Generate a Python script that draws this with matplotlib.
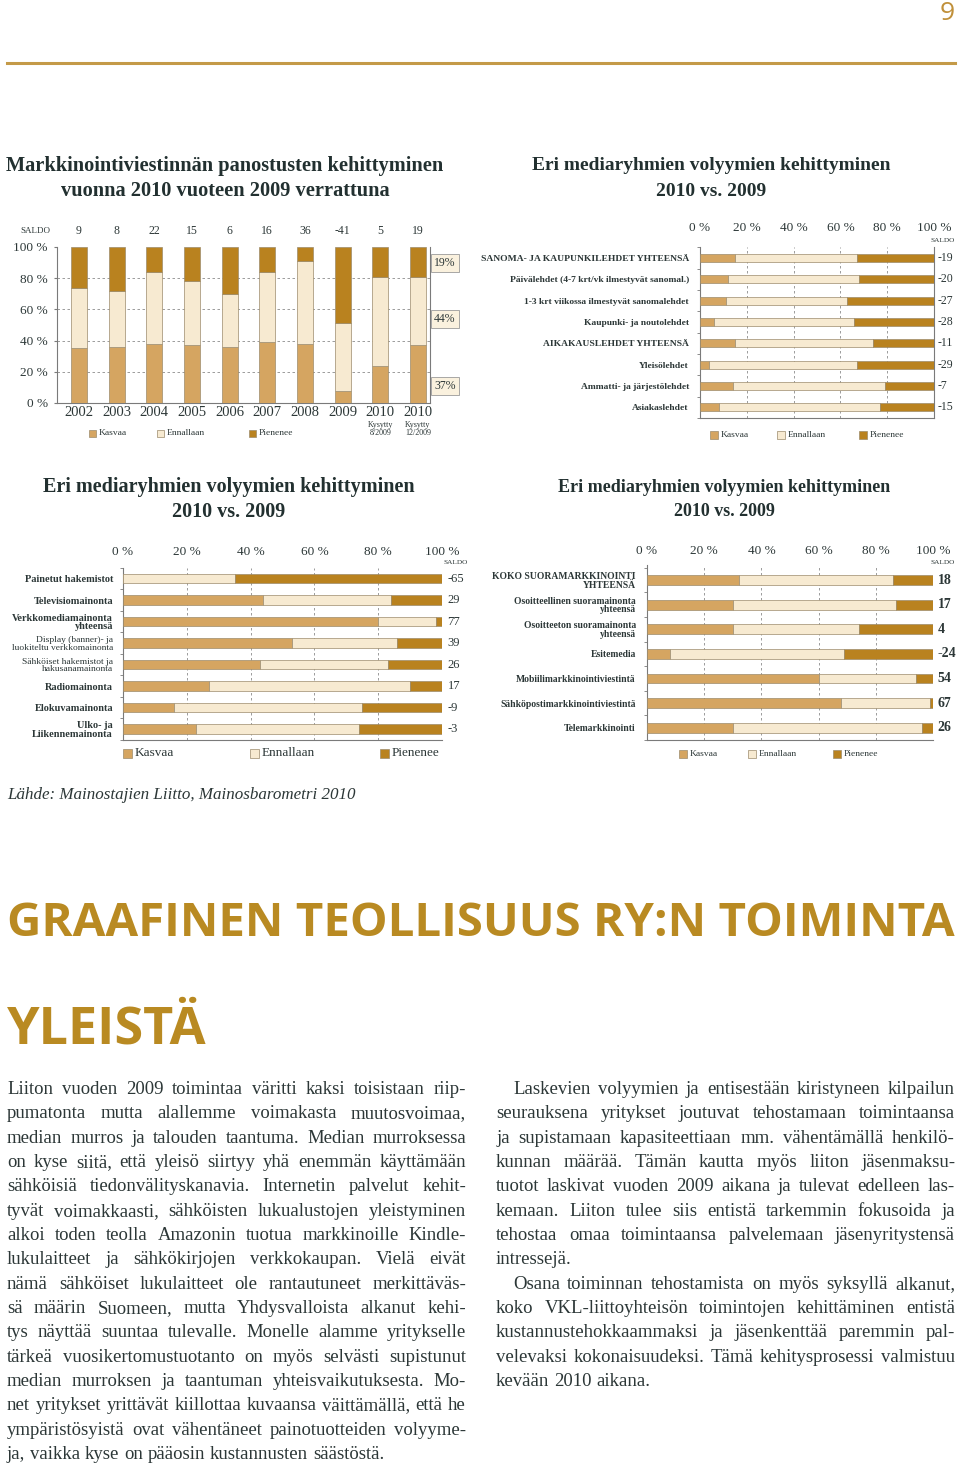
import numpy as np
import matplotlib
matplotlib.use('Agg')
from matplotlib import pyplot as plt
from matplotlib import transforms as mtransforms
from matplotlib import font_manager as fm
from matplotlib.patches import Rectangle

# ---------------------------------------------------------------- data
series_names = ['Kasvaa', 'Ennallaan', 'Pienenee']

years = ['2002', '2003', '2004', '2005', '2006', '2007', '2008', '2009', '2010', '2010']
year_notes = ['', '', '', '', '', '', '', '', 'Kysytty\n8/2009', 'Kysytty\n12/2009']
year_kasvaa = [35, 36, 38, 37, 36, 39, 38, 8, 24, 37]
year_ennallaan = [39, 36, 46, 41, 34, 45, 53, 43, 57, 44]
year_pienenee = [26, 28, 16, 22, 30, 16, 9, 49, 19, 19]
year_saldo = [9, 8, 22, 15, 6, 16, 36, -41, 5, 19]
last_bar_notes = ['19%', '44%', '37%']

press_labels = ['SANOMA- JA KAUPUNKILEHDET YHTEENSÄ',
                'Päivälehdet (4-7 krt/vk ilmestyvät sanomal.)',
                '1-3 krt viikossa ilmestyvät sanomalehdet',
                'Kaupunki- ja noutolehdet',
                'AIKAKAUSLEHDET YHTEENSÄ',
                'Yleisölehdet',
                'Ammatti- ja järjestölehdet',
                'Asiakaslehdet']
press_kasvaa = [15, 12, 11, 6, 15, 4, 14, 8]
press_ennallaan = [52, 56, 52, 60, 59, 63, 65, 69]
press_pienenee = [33, 32, 37, 34, 26, 33, 21, 23]
press_saldo = [-19, -20, -27, -28, -11, -29, -7, -15]

media_labels = ['Painetut hakemistot',
                'Televisiomainonta',
                'Verkkomediamainonta\nyhteensä',
                'Display (banner)- ja\nluokiteltu verkkomainonta',
                'Sähköiset hakemistot ja\nhakusanamainonta',
                'Radiomainonta',
                'Elokuvamainonta',
                'Ulko- ja\nLiikennemainonta']
media_kasvaa = [0, 44, 80, 53, 43, 27, 16, 23]
media_ennallaan = [35, 40, 18, 33, 40, 63, 59, 51]
media_pienenee = [65, 16, 2, 14, 17, 10, 25, 26]
media_saldo = [-65, 29, 77, 39, 26, 17, -9, -3]

dm_labels = ['KOKO SUORAMARKKINOINTI\nYHTEENSÄ',
             'Osoitteellinen suoramainonta\nyhteensä',
             'Osoitteeton suoramainonta\nyhteensä',
             'Esitemedia',
             'Mobiilimarkkinointiviestintä',
             'Sähköpostimarkkinointiviestintä',
             'Telemarkkinointi']
dm_kasvaa = [32, 30, 30, 8, 60, 68, 30]
dm_ennallaan = [54, 57, 44, 61, 34, 31, 66]
dm_pienenee = [14, 13, 26, 31, 6, 1, 4]
dm_saldo = [18, 17, 4, -24, 54, 67, 26]

titles = ['Markkinointiviestinnän panostusten kehittyminen\nvuonna 2010 vuoteen 2009 verrattuna',
          'Eri mediaryhmien volyymien kehittyminen\n2010 vs. 2009',
          'Eri mediaryhmien volyymien kehittyminen\n2010 vs. 2009',
          'Eri mediaryhmien volyymien kehittyminen\n2010 vs. 2009']
source = 'Lähde: Mainostajien Liitto, Mainosbarometri 2010'
heading = 'GRAAFINEN TEOLLISUUS RY:N TOIMINTA'
subheading = 'YLEISTÄ'
page_number = '9'

left_text = [
    'Liiton vuoden 2009 toimintaa väritti kaksi toisistaan riip-',
    'pumatonta mutta alallemme voimakasta muutosvoimaa,',
    'median murros ja talouden taantuma. Median murroksessa',
    'on kyse siitä, että yleisö siirtyy yhä enemmän käyttämään',
    'sähköisiä tiedonvälityskanavia. Internetin palvelut kehit-',
    'tyvät voimakkaasti, sähköisten lukualustojen yleistyminen',
    'alkoi toden teolla Amazonin tuotua markkinoille Kindle-',
    'lukulaitteet ja sähkökirjojen verkkokaupan. Vielä eivät',
    'nämä sähköiset lukulaitteet ole rantautuneet merkittäväs-',
    'sä määrin Suomeen, mutta Yhdysvalloista alkanut kehi-',
    'tys näyttää suuntaa tulevalle. Monelle alamme yritykselle',
    'tärkeä vuosikertomustuotanto on myös selvästi supistunut',
    'median murroksen ja taantuman yhteisvaikutuksesta. Mo-',
    'net yritykset yrittävät kiillottaa kuvaansa väittämällä, että he',
    'ympäristösyistä ovat vähentäneet painotuotteiden volyyme-',
    'ja, vaikka kyse on pääosin kustannusten säästöstä.',
]
right_text_1 = [
    'Laskevien volyymien ja entisestään kiristyneen kilpailun',
    'seurauksena yritykset joutuvat tehostamaan toimintaansa',
    'ja supistamaan kapasiteettiaan mm. vähentämällä henkilö-',
    'kunnan määrää. Tämän kautta myös liiton jäsenmaksu-',
    'tuotot laskivat vuoden 2009 aikana ja tulevat edelleen las-',
    'kemaan. Liiton tulee siis entistä tarkemmin fokusoida ja',
    'tehostaa omaa toimintaansa palvelemaan jäsenyritystensä',
    'intressejä.',
]
right_text_2 = [
    'Osana toiminnan tehostamista on myös syksyllä alkanut,',
    'koko VKL-liittoyhteisön toimintojen kehittäminen entistä',
    'kustannustehokkaammaksi ja jäsenkenttää paremmin pal-',
    'velevaksi kokonaisuudeksi. Tämä kehitysprosessi valmistuu',
    'kevään 2010 aikana.',
]

# ---------------------------------------------------------------- style
C_K = '#D5A561'
C_E = '#F7EAD1'
C_P = '#B9821F'
EDGE = '#9C8B6C'
GOLD = '#B98A22'
TXT = '#2C3737'
TITLE = '#223030'
GRID = '#8C8C8C'
AXC = '#7A7A7A'


def have(family, weight='normal'):
    try:
        fm.findfont(fm.FontProperties(family=family, weight=weight),
                    fallback_to_default=False)
        return True
    except ValueError:
        return False


SERIF = 'Liberation Serif' if have('Liberation Serif') else 'DejaVu Serif'
SANS_BOLD = next((f for f in ['Liberation Sans Narrow', 'Open Sans', 'DejaVu Sans']
                  if have(f, 'bold')), 'DejaVu Sans')

plt.rcParams['font.family'] = [SERIF, 'DejaVu Serif']
plt.rcParams['text.color'] = TXT

W, H = 960, 1467
fig = plt.figure(figsize=(W / 100, H / 100), dpi=100)
fig.patch.set_facecolor('white')
page = mtransforms.Affine2D().scale(1.0 / W, -1.0 / H).translate(0, 1) + fig.transFigure
renderer = fig.canvas.get_renderer()


def add_ax(left, top, right, bottom):
    return fig.add_axes([left / W, 1 - bottom / H, (right - left) / W, (bottom - top) / H])


def text_width(s, **kw):
    t = fig.text(0, 0, s, **kw)
    w = t.get_window_extent(renderer=renderer).width
    t.remove()
    return w


def fit_size(s, width, ref=20, **kw):
    return ref * width / text_width(s, fontsize=ref, **kw)


def legend_row(xs, y, size, fs):
    for x, col, name in zip(xs, [C_K, C_E, C_P], series_names):
        fig.add_artist(Rectangle((x, y - size / 2), size, size, transform=page,
                                 facecolor=col, edgecolor=EDGE, linewidth=0.5))
        fig.text(x + size + 3, y, name, transform=page, fontsize=fs,
                 ha='left', va='center', color=TXT)


def style_spines(ax, right=False):
    for side in ['left', 'bottom', 'right', 'top']:
        ax.spines[side].set_color(AXC)
        ax.spines[side].set_linewidth(0.8)
    ax.spines['top'].set_visible(False)
    ax.spines['right'].set_visible(right)


# ---------------------------------------------------------------- chart 1
def year_chart():
    ax = add_ax(57, 247, 430, 403)
    x = np.arange(len(years))
    k = np.array(year_kasvaa)
    e = np.array(year_ennallaan)
    p = np.array(year_pienenee)
    kw = dict(width=0.42, edgecolor=EDGE, linewidth=0.5, zorder=3)
    ax.bar(x, k, color=C_K, **kw)
    ax.bar(x, e, bottom=k, color=C_E, **kw)
    ax.bar(x, p, bottom=k + e, color=C_P, **kw)
    ax.set_xlim(-0.584, 9.32)
    ax.set_ylim(0, 100)
    for v in (20, 40, 60, 80):
        ax.axhline(v, color=GRID, lw=0.6, ls=(0, (3, 3)), zorder=1)
    ticks = [0, 20, 40, 60, 80, 100]
    ax.set_yticks(ticks, ['%d %%' % v for v in ticks])
    ax.tick_params(axis='y', length=2.2, pad=4.3, labelsize=9.5, colors=AXC, labelcolor=TXT)
    ax.set_xticks(x, years)
    ax.tick_params(axis='x', length=0, pad=2.5, labelsize=10.5, labelcolor=TXT)
    style_spines(ax, right=True)
    ax.annotate('SALDO', xy=(0, 1), xycoords='axes fraction', xytext=(-22, 16),
                textcoords='offset pixels', ha='center', va='center', fontsize=6.5)
    for xi, s, note in zip(x, year_saldo, year_notes):
        ax.annotate(str(s), xy=(xi, 100), xytext=(0, 16), textcoords='offset pixels',
                    ha='center', va='center', fontsize=8.5)
        if note:
            ax.annotate(note, xy=(xi, 0), xytext=(0, -26), textcoords='offset pixels',
                        ha='center', va='center', fontsize=5.8, linespacing=1.05)
    tr = mtransforms.blended_transform_factory(ax.transAxes, ax.transData)
    for v, note in zip([90, 54, 11], last_bar_notes):
        ax.text(1.04, v, note, transform=tr, ha='center', va='center', fontsize=8.5,
                bbox=dict(boxstyle='square,pad=0.25', fc='#FAF1DE', ec='#9A9A9A', lw=0.6))
    legend_row([89, 157, 249], 433, 7, 6.8)


# ---------------------------------------------------------------- hbar charts
def hbar_chart(rect, ylim, labels, kas, enn, pie, saldo, bar_h, label_fs, label_pad,
               tick_pad, tick_fs, saldo_fs, saldo_weight='normal', right_spine=False,
               saldo_off=(9, 7), light_rows=()):
    ax = add_ax(*rect)
    y = np.arange(len(labels))
    k = np.array(kas)
    e = np.array(enn)
    p = np.array(pie)
    kw = dict(height=bar_h, edgecolor=EDGE, linewidth=0.5, zorder=3)
    ax.barh(y, k, color=C_K, **kw)
    ax.barh(y, e, left=k, color=C_E, **kw)
    ax.barh(y, p, left=k + e, color=C_P, **kw)
    ax.set_xlim(0, 100)
    ax.set_ylim(*ylim)
    for v in (20, 40, 60, 80):
        ax.axvline(v, color=GRID, lw=0.6, ls=(0, (3, 3)), zorder=1)
    ax.xaxis.tick_top()
    ticks = [0, 20, 40, 60, 80, 100]
    ax.set_xticks(ticks, ['%d %%' % v for v in ticks])
    ax.tick_params(axis='x', length=0, pad=tick_pad, labelsize=tick_fs, labelcolor=TXT)
    ax.set_yticks(y, labels)
    ax.set_yticks(np.arange(len(labels) + 1) - 0.5, minor=True)
    ax.tick_params(axis='y', which='major', length=0, pad=label_pad, labelsize=label_fs,
                   labelcolor=TXT)
    ax.tick_params(axis='y', which='minor', length=2.2, colors=AXC)
    for i, lab in enumerate(ax.get_yticklabels()):
        lab.set_linespacing(0.95)
        if i in light_rows:
            lab.set_fontweight('normal')
            lab.set_fontsize(label_fs - 0.6)
        else:
            lab.set_fontweight('bold')
    style_spines(ax, right=right_spine)
    tr = mtransforms.blended_transform_factory(ax.transAxes, ax.transData)
    for yi, s in zip(y, saldo):
        ax.text(1.017, yi, str(s), transform=tr, ha='left', va='center',
                fontsize=saldo_fs, fontweight=saldo_weight)
    ax.annotate('SALDO', xy=(1, 1), xycoords='axes fraction', xytext=saldo_off,
                textcoords='offset pixels', ha='center', va='center', fontsize=5.2)
    return ax


year_chart()
hbar_chart((700, 247, 934, 418), (7.47, -0.51), press_labels, press_kasvaa,
           press_ennallaan, press_pienenee, press_saldo, bar_h=0.38, label_fs=6.8,
           label_pad=8, tick_pad=9.4, tick_fs=9.5, saldo_fs=8.5, right_spine=True)
legend_row([710, 777, 859], 435, 8, 6.8)

hbar_chart((123, 568, 442, 740), (7.51, -0.46), media_labels, media_kasvaa,
           media_ennallaan, media_pienenee, media_saldo, bar_h=0.44, label_fs=7.4,
           label_pad=7.2, tick_pad=7, tick_fs=9.5, saldo_fs=9, saldo_off=(14, 5),
           light_rows=(3, 4))
legend_row([123, 250, 380], 753, 9, 9.5)

hbar_chart((647, 565, 933, 740), (6.49, -0.61), dm_labels, dm_kasvaa,
           dm_ennallaan, dm_pienenee, dm_saldo, bar_h=0.4, label_fs=6.9,
           label_pad=8, tick_pad=6, tick_fs=9.5, saldo_fs=10, saldo_weight='bold',
           saldo_off=(10, 3))
legend_row([679, 748, 833], 754, 8, 6.8)

# ---------------------------------------------------------------- titles etc.
title_boxes = [(225, 166, 436), (711, 166, 359), (229, 487, 372), (724, 487, 332)]
for (cx, ty, w), t in zip(title_boxes, titles):
    first, second = t.split('\n')
    fs = fit_size(first, w, weight='bold')
    fig.text(cx, ty, first, transform=page, fontsize=fs, ha='center', va='center',
             color=TITLE, weight='bold')
    fig.text(cx, ty + 25, second, transform=page, fontsize=fs, ha='center', va='center',
             color=TITLE, weight='bold')

fig.add_artist(plt.Line2D([7, 955], [63, 63], transform=page, color='#C49A48', lw=2.2))
fig.text(955, 13, page_number, transform=page, fontsize=19, ha='right', va='center',
         color='#C0903A', family=SANS_BOLD)

fig.text(7, 795, source, transform=page, fontsize=fit_size(source, 349, style='italic'),
         style='italic', ha='left', va='center', color=TXT)

hfs = fit_size(heading, 948, family=SANS_BOLD, weight='bold')
fig.text(7, 936, heading, transform=page, fontsize=hfs, family=SANS_BOLD, weight='bold',
         ha='left', va='baseline', color=GOLD)
sfs = fit_size(subheading, 200, family=SANS_BOLD, weight='bold')
fig.text(7, 1043, subheading, transform=page, fontsize=sfs, family=SANS_BOLD, weight='bold',
         ha='left', va='baseline', color=GOLD)


# ---------------------------------------------------------------- body text
def body_size(paragraphs, ref=10):
    sp = text_width('a a', fontsize=ref) - text_width('aa', fontsize=ref)
    best = 99
    for lines, x0, x1, indent in paragraphs:
        for i, line in enumerate(lines[:-1]):
            words = line.split(' ')
            nat = sum(text_width(wd, fontsize=ref) for wd in words) + (len(words) - 1) * sp * 0.75
            avail = x1 - x0 - (indent if i == 0 else 0)
            best = min(best, ref * avail / nat)
    return best


def draw_paragraph(lines, x0, x1, y0, lh, fs, indent=0):
    sp = text_width('a a', fontsize=fs) - text_width('aa', fontsize=fs)
    for i, line in enumerate(lines):
        words = line.split(' ')
        widths = [text_width(wd, fontsize=fs) for wd in words]
        start = x0 + (indent if i == 0 else 0)
        if i < len(lines) - 1 and len(words) > 1:
            gap = (x1 - start - sum(widths)) / (len(words) - 1)
        else:
            gap = sp
        x = start
        for wd, w in zip(words, widths):
            fig.text(x, y0 + i * lh, wd, transform=page, fontsize=fs, ha='left',
                     va='baseline', color=TXT)
            x += w + gap


LH = 24.33
paras = [(left_text, 7, 466, 0), (right_text_1, 496, 955, 17), (right_text_2, 496, 955, 17)]
bfs = min(13.5, body_size(paras))
draw_paragraph(left_text, 7, 466, 1094, LH, bfs)
draw_paragraph(right_text_1, 496, 955, 1094, LH, bfs, indent=17)
draw_paragraph(right_text_2, 496, 955, 1094 + 8 * LH, LH, bfs, indent=17)

fig.savefig('out.png', dpi=100, facecolor='white')
